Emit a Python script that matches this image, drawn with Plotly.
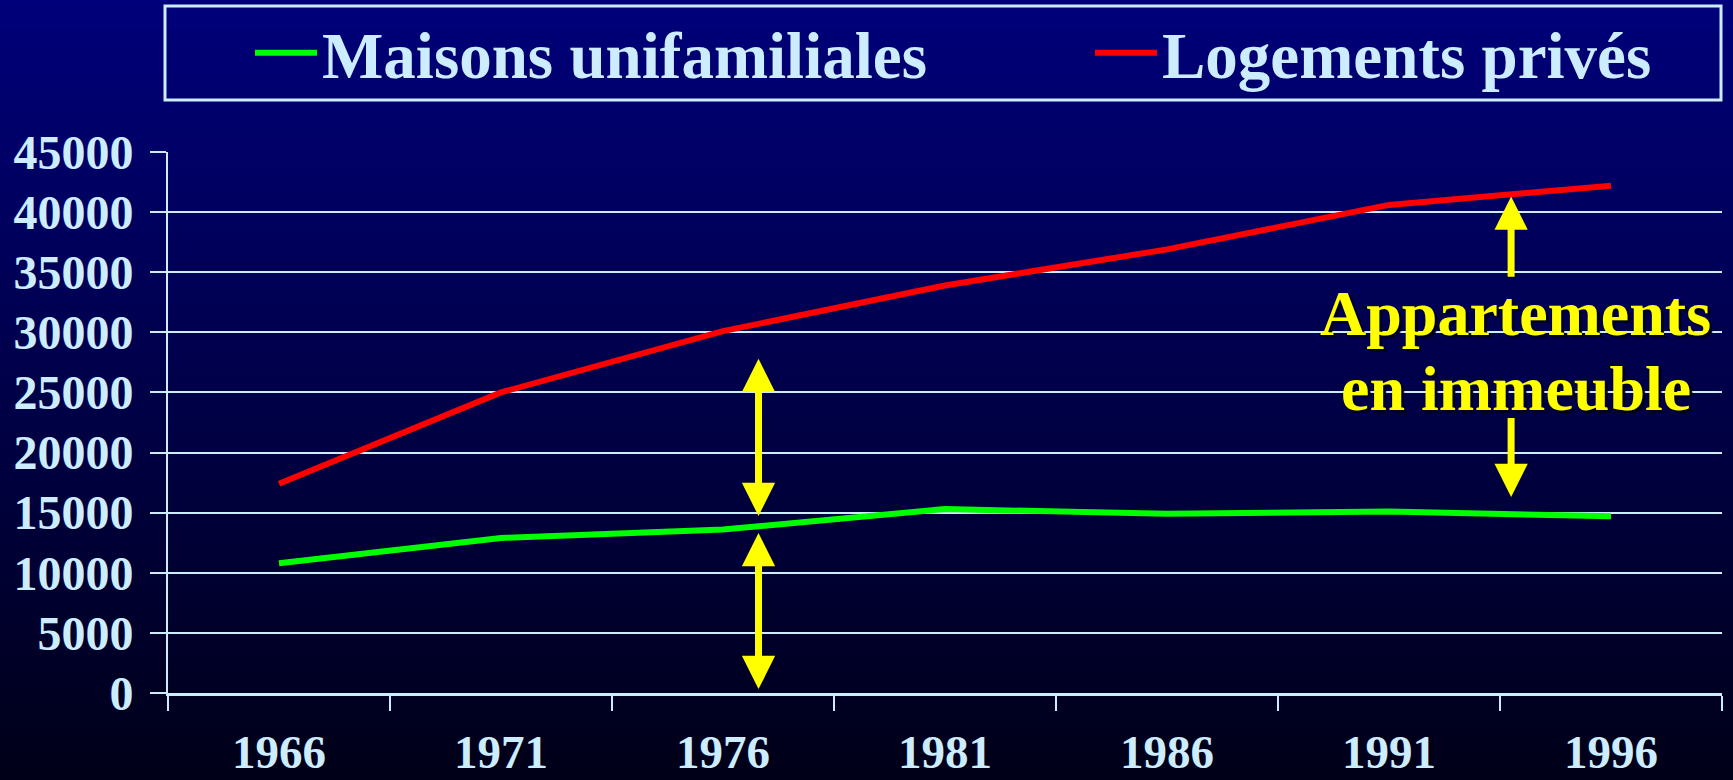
import zlib, struct, base64
import plotly.graph_objects as go

# ---- data ----
years = ["1966", "1971", "1976", "1981", "1986", "1991", "1996"]
maisons = [10800, 12900, 13600, 15300, 14900, 15100, 14700]
logements = [17400, 25000, 30100, 33900, 36900, 40600, 42200]
y_ticks = [0, 5000, 10000, 15000, 20000, 25000, 30000, 35000, 40000, 45000]

annot_line1 = "Appartements"
annot_line2 = "en immeuble"

W, H = 1733, 780
ML, MR, MT, MB = 168, 11, 152, 87
PW, PH = W - ML - MR, H - MT - MB

TXT = "#CCECFF"
FONT = "Liberation Serif"


def png_gradient(h, top, bot):
    raw = b""
    for i in range(h):
        t = i / (h - 1)
        c = bytes(round(top[k] + (bot[k] - top[k]) * t) for k in range(3))
        raw += b"\x00" + c + c
    def chunk(tag, data):
        return (struct.pack(">I", len(data)) + tag + data +
                struct.pack(">I", zlib.crc32(tag + data) & 0xffffffff))
    ihdr = struct.pack(">IIBBBBB", 2, h, 8, 2, 0, 0, 0)
    png = (b"\x89PNG\r\n\x1a\n" + chunk(b"IHDR", ihdr) +
           chunk(b"IDAT", zlib.compress(raw)) + chunk(b"IEND", b""))
    return "data:image/png;base64," + base64.b64encode(png).decode()


bg = png_gradient(256, (0, 0, 122), (0, 0, 24))

fig = go.Figure()
fig.add_trace(go.Scatter(x=years, y=maisons, mode="lines", name="Maisons unifamiliales",
                         line=dict(color="#00FF00", width=6), legend="legend"))
fig.add_trace(go.Scatter(x=years, y=logements, mode="lines", name="Logements privés",
                         line=dict(color="#FF0000", width=6), legend="legend2"))


def px2x(px):
    return (px - ML) / PW


def px2y(py):
    return 1 + (MT - py) / PH


annotations = []
# arrows (tip / tail in data space)
arrow_specs = [
    (2.16, 27800, 2.16, 14600, "end+start"),
    (2.16, 13300, 2.16, 200, "end+start"),
    (5.55, 41300, 5.55, 34500, "end"),
    (5.55, 16300, 5.55, 23000, "end"),
]
for x, y, axv, ayv, side in arrow_specs:
    annotations.append(dict(
        x=x, y=y, ax=axv, ay=ayv, xref="x", yref="y", axref="x", ayref="y",
        text="", showarrow=True, arrowhead=2, startarrowhead=2,
        arrowsize=0.95, startarrowsize=0.95, arrowwidth=7, arrowcolor="#FFFF00",
        arrowside=side, standoff=0, startstandoff=0))

for txt, yv in [(annot_line1, 31600), (annot_line2, 25300)]:
    annotations.append(dict(
        x=5.57, y=yv, xref="x", yref="y", text=txt, showarrow=False,
        xanchor="center", yanchor="middle",
        font=dict(family=FONT, size=64, color="#FFFF00", weight="bold",
                  shadow="3px 3px 1px #000022")))

legend_font = dict(family=FONT, size=65, color=TXT, weight="bold")

fig.update_layout(
    width=W, height=H,
    margin=dict(l=ML, r=MR, t=MT, b=MB, autoexpand=False),
    paper_bgcolor="#000048",
    plot_bgcolor="rgba(0,0,0,0)",
    images=[dict(source=bg, xref="paper", yref="paper",
                 x=px2x(0), y=px2y(0), sizex=W / PW, sizey=H / PH,
                 xanchor="left", yanchor="top", sizing="stretch", layer="below")],
    shapes=[dict(type="rect", xref="paper", yref="paper",
                 x0=px2x(165), x1=px2x(1721), y0=px2y(100), y1=px2y(6),
                 line=dict(color=TXT, width=3), fillcolor="rgba(0,0,0,0)")],
    showlegend=True,
    legend=dict(orientation="h", x=px2x(250), xanchor="left", y=px2y(53), yanchor="middle",
                bgcolor="rgba(0,0,0,0)", borderwidth=0, font=legend_font, itemwidth=62),
    legend2=dict(orientation="h", x=px2x(1090), xanchor="left", y=px2y(53), yanchor="middle",
                 bgcolor="rgba(0,0,0,0)", borderwidth=0, font=legend_font, itemwidth=62),
    xaxis=dict(type="category", range=[-0.5, 6.5], tickson="boundaries", ticks="outside",
               ticklen=15, tickwidth=2, tickcolor=TXT, showline=True, linecolor=TXT,
               linewidth=3, showgrid=False, ticklabelstandoff=16,
               tickfont=dict(family=FONT, size=47, color=TXT, weight="bold")),
    yaxis=dict(range=[0, 45000], tickvals=y_ticks, ticktext=[str(v) for v in y_ticks],
               showgrid=True, gridcolor=TXT, gridwidth=2, ticks="outside", ticklen=16,
               tickwidth=2, tickcolor=TXT, showline=True, linecolor=TXT, linewidth=2,
               zeroline=False, ticklabelstandoff=7,
               tickfont=dict(family=FONT, size=48, color=TXT, weight="bold")),
    annotations=annotations,
)

fig.write_html("out.html", config={"displayModeBar": False},
               post_script="document.body.style.margin='0';")
